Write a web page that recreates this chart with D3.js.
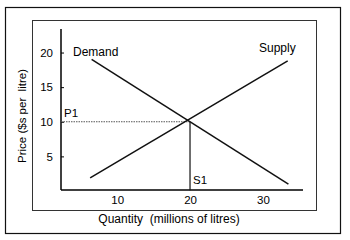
<!DOCTYPE html>
<html>
<head>
<meta charset="utf-8">
<script src="https://cdn.jsdelivr.net/npm/d3@7"></script>
<style>
  body { margin: 0; background: white; }
  text { font-family: "Liberation Sans", Arial, sans-serif; fill: #000; }
</style>
</head>
<body>
<div id="chart"></div>
<script>
const width = 350
const height = 240

// curves: [quantity, price] end points
const demand = [[6.5, 19], [33.5, 1]]
const supply = [[6.3, 1.9], [33.4, 18.8]]
const equilibrium = [20, 10]
const xTicks = [10, 20, 30]
const yTicks = [5, 10, 15, 20]

var xScale = d3.scaleLinear([2.3, 35.5], [61, 303])
var yScale = d3.scaleLinear([0, 23.4], [191, 29])

var svg = d3.select("#chart")
  .append("svg")
  .attr("width", width)
  .attr("height", height)

// outer frame
svg.append("rect")
  .attr("x", 5.5).attr("y", 7.5)
  .attr("width", 335).attr("height", 226)
  .style("fill", "none").style("stroke", "#111").style("stroke-width", 1.2)

// inner frame
svg.append("rect")
  .attr("x", 32.5).attr("y", 20.5)
  .attr("width", 284).attr("height", 190)
  .style("fill", "none").style("stroke", "#333").style("stroke-width", 1)

// axes
var xAxis = d3.axisBottom(xScale).tickValues(xTicks).tickSize(0).tickPadding(6)
svg.append("g")
  .attr("transform", `translate(0,${yScale(0) - 1})`)
  .call(xAxis)
  .call(g => g.select(".domain").attr("d", `M${xScale.range()[0]},0H${xScale.range()[1]}`).style("stroke-width", 1.5))
  .call(g => g.selectAll("text").style("font-size", "11.5px"))

var yAxis = d3.axisRight(yScale).tickValues(yTicks).tickSize(3).tickFormat(d3.format("d"))
svg.append("g")
  .attr("transform", `translate(${xScale(2.3)},0)`)
  .call(yAxis)
  .call(g => g.select(".domain").attr("d", `M0,${yScale.range()[0] - 1}V${yScale.range()[1]}`).style("stroke-width", 1.5))
  .call(g => g.selectAll("text").attr("x", -8).attr("text-anchor", "end").style("font-size", "11.5px"))

var line = d3.line().x(d => xScale(d[0])).y(d => yScale(d[1]))

// guide lines
svg.append("path")
  .attr("d", line([[2.3, equilibrium[1]], equilibrium]))
  .style("fill", "none").style("stroke", "#555").style("stroke-width", 1.2)
  .style("stroke-dasharray", "1.5,1")
svg.append("path")
  .attr("d", line([equilibrium, [equilibrium[0], 0.1]]))
  .style("fill", "none").style("stroke", "#111").style("stroke-width", 1.2)

// curves
svg.selectAll(".curve")
  .data([demand, supply])
  .enter()
  .append("path")
  .attr("class", "curve")
  .attr("d", line)
  .style("fill", "none").style("stroke", "#111").style("stroke-width", 1.5)

// labels
svg.append("text").attr("x", 73).attr("y", 56).style("font-size", "12px").text("Demand")
svg.append("text").attr("x", 259).attr("y", 52).style("font-size", "12px").text("Supply")
svg.append("text").attr("x", 64).attr("y", 117).style("font-size", "11.5px").text("P1")
svg.append("text").attr("x", 193).attr("y", 184).style("font-size", "11.5px").text("S1")

svg.append("text")
  .attr("x", 169).attr("y", 223)
  .attr("text-anchor", "middle")
  .style("font-size", "12px")
  .style("white-space", "pre")
  .text("Quantity  (millions of litres)")

svg.append("text")
  .attr("transform", "translate(26,116) rotate(-90)")
  .attr("text-anchor", "middle")
  .style("font-size", "11.5px")
  .style("white-space", "pre")
  .text("Price ($s per  litre)")
</script>
</body>
</html>
